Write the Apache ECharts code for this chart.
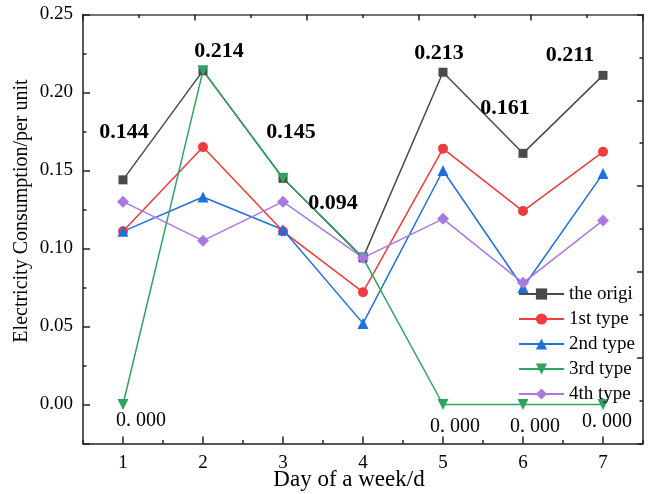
<!DOCTYPE html>
<html>
<head>
<meta charset="utf-8">
<script src="https://cdn.jsdelivr.net/npm/echarts@6/dist/echarts.min.js"></script>
<style>
  html, body { margin: 0; padding: 0; background: #fff; }
  #chart { width: 665px; height: 494px; }
</style>
</head>
<body>
<div id="chart"></div>
<script>
// 数据
var days = ['1', '2', '3', '4', '5', '6', '7'];
var seriesNames = ['the origin', '1st type', '2nd type', '3rd type', '4th type'];
var origin = [0.144, 0.214, 0.145, 0.094, 0.213, 0.161, 0.211];
var type1 = [0.111, 0.165, 0.111, 0.072, 0.164, 0.124, 0.162];
var type2 = [0.111, 0.133, 0.112, 0.052, 0.150, 0.075, 0.148];
var type3 = [0.000, 0.214, 0.145, 0.094, 0.000, 0.000, 0.000];
var type4 = [0.130, 0.105, 0.130, 0.094, 0.119, 0.078, 0.118];

// 标签偏移 (px)
var originLabelOffset = [[1, -48], [16, -19], [8, -46], [-30, -55], [-4, -19], [-18, -45], [-33, -20]];
var zeroLabelOffset = [[18, 16], null, null, null, [12, 22], [12, 22], [4, 17]];

var serif = 'Liberation Serif';
var lineColor = '#222';
var gridBox = { left: 83, right: 22, top: 14.5, bottom: 50.5, containLabel: false, outerBoundsMode: 'none' };

var chart = echarts.init(document.getElementById('chart'));

function mk(name, vals, color, symbol, size, extra) {
  var s = {
    name: name,
    type: 'line',
    data: vals,
    symbol: symbol,
    symbolSize: size,
    lineStyle: { color: color, width: 1.5 },
    itemStyle: { color: color },
    animation: false
  };
  for (var k in extra) s[k] = extra[k];
  return s;
}

var originData = origin.map(function (v, i) {
  return {
    value: v,
    label: { show: true, position: 'inside', offset: originLabelOffset[i] }
  };
});
var type3Data = type3.map(function (v, i) {
  if (zeroLabelOffset[i]) {
    return { value: v, label: { show: true, position: 'inside', offset: zeroLabelOffset[i] } };
  }
  return { value: v };
});

var tickStyle = { color: lineColor, width: 1.5 };

var option = {
  backgroundColor: '#fff',
  grid: [
    Object.assign({}, gridBox),
    Object.assign({}, gridBox),
    Object.assign({}, gridBox)
  ],
  legend: {
    orient: 'vertical',
    left: 513,
    top: 279,
    itemWidth: 45,
    itemHeight: 14,
    itemGap: 5,
    data: seriesNames,
    textStyle: {
      fontFamily: serif, fontSize: 19, lineHeight: 20, color: '#000',
      width: 72, overflow: 'truncate', ellipsis: ''
    }
  },
  xAxis: [
    {
      gridIndex: 0, type: 'category', data: days, boundaryGap: true, position: 'bottom',
      name: 'Day of a week/d', nameLocation: 'middle', nameGap: 25, nameMoveOverlap: false,
      nameTextStyle: { fontFamily: serif, fontSize: 23, color: '#000', padding: [0, 28, 0, 0] },
      axisLine: { show: true, onZero: false, lineStyle: { color: lineColor, width: 1.5 } },
      axisTick: { show: true, inside: true, alignWithLabel: true, length: 7, lineStyle: tickStyle },
      axisLabel: { fontFamily: serif, fontSize: 19, color: '#000', margin: 10 },
      splitLine: { show: false }
    },
    {
      gridIndex: 1, type: 'category', data: days, boundaryGap: true, position: 'bottom',
      axisLine: { show: false, onZero: false },
      axisTick: { show: true, inside: true, length: 3.5, lineStyle: tickStyle },
      axisLabel: { show: false },
      splitLine: { show: false }
    },
    {
      gridIndex: 2, type: 'value', position: 'top', min: 0, max: 5, interval: 1,
      axisLine: { show: true, onZero: false, lineStyle: { color: '#444', width: 1.5 } },
      axisTick: { show: true, inside: true, length: 6, lineStyle: tickStyle },
      minorTick: { show: true, splitNumber: 2, length: 3.5, lineStyle: tickStyle },
      axisLabel: { show: false },
      splitLine: { show: false }
    }
  ],
  yAxis: [
    {
      gridIndex: 0, type: 'value', position: 'left', min: -0.025, max: 0.25, splitNumber: 5,
      name: 'Electricity Consumption/per unit', nameLocation: 'middle', nameGap: 51, nameMoveOverlap: false,
      nameTextStyle: { fontFamily: serif, fontSize: 20, color: '#000', padding: [0, 0, 0, 36] },
      axisLine: { show: true, onZero: false, lineStyle: { color: lineColor, width: 1.5 } },
      axisTick: { show: true, inside: true, length: 7, lineStyle: tickStyle },
      axisLabel: {
        fontFamily: serif, fontSize: 19, color: '#000', margin: 10,
        formatter: function (v) { return v < -0.001 ? '' : v.toFixed(2); }
      },
      splitLine: { show: false }
    },
    {
      gridIndex: 1, type: 'value', position: 'left', min: -0.025, max: 0.25, interval: 0.025,
      axisLine: { show: false, onZero: false },
      axisTick: { show: true, inside: true, length: 3.5, lineStyle: tickStyle },
      axisLabel: { show: false },
      splitLine: { show: false }
    },
    {
      gridIndex: 2, type: 'value', position: 'right', min: 0, max: 5, interval: 1,
      axisLine: { show: true, onZero: false, lineStyle: { color: lineColor, width: 1.5 } },
      axisTick: { show: true, inside: true, length: 6, lineStyle: tickStyle },
      minorTick: { show: true, splitNumber: 2, length: 3.5, lineStyle: tickStyle },
      axisLabel: { show: false },
      splitLine: { show: false }
    }
  ],
  series: [
    mk(seriesNames[0], originData, '#4a4a4a', 'rect', 9, {
      label: {
        fontFamily: serif, fontSize: 22, fontWeight: 'bold', color: '#000',
        formatter: function (p) { return p.value.toFixed(3); }
      }
    }),
    mk(seriesNames[1], type1, '#ee3b3b', 'circle', 10, {}),
    mk(seriesNames[2], type2, '#1f6fe0', 'triangle', 11, {}),
    mk(seriesNames[3], type3Data, '#2fa35f', 'triangle', 11, {
      symbolRotate: 180,
      label: {
        fontFamily: serif, fontSize: 20, color: '#000',
        formatter: function () { return '0. 000'; }
      }
    }),
    mk(seriesNames[4], type4, '#a978e0', 'diamond', 12, {})
  ]
};

chart.setOption(option);
</script>
</body>
</html>
